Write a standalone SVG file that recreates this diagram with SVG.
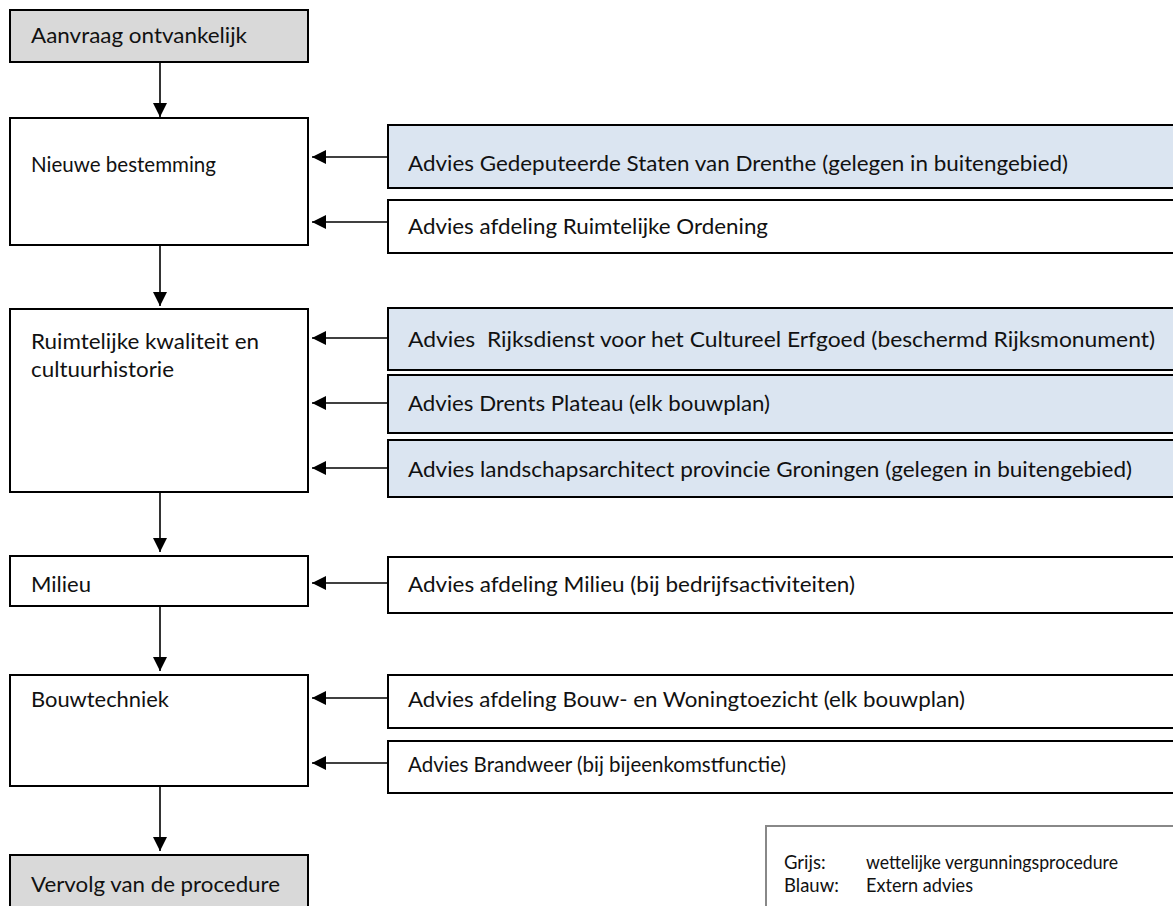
<svg xmlns="http://www.w3.org/2000/svg" width="1173" height="906" viewBox="0 0 1173 906">
<style>
text{font-family:Lato,"Liberation Sans",sans-serif;font-size:21px;fill:#111;}
.lt{font-size:18.5px;}
.box{fill:#fff;stroke:#000;stroke-width:2;}
.grey{fill:#d9d9d9;stroke:#000;stroke-width:2;}
.blue{fill:#dbe5f1;stroke:#000;stroke-width:2;}
.leg{fill:#fff;stroke:#888;stroke-width:2;}
.con{stroke:#000;stroke-width:1.6;fill:none;marker-end:url(#ah);}
</style>
<defs>
<marker id="ah" markerUnits="userSpaceOnUse" markerWidth="16" markerHeight="14" refX="14" refY="7" orient="auto">
<path d="M0,0 L14,7 L0,14 Z" fill="#000"/>
</marker>
</defs>
<rect width="1173" height="906" fill="#fff"/>
<g id="connectors">
<line class="con" x1="160" y1="62" x2="160" y2="117"/>
<line class="con" x1="160" y1="245" x2="160" y2="306"/>
<line class="con" x1="160" y1="492" x2="160" y2="552"/>
<line class="con" x1="160" y1="606" x2="160" y2="671"/>
<line class="con" x1="160" y1="786" x2="160" y2="851"/>
<line class="con" x1="388" y1="157" x2="312" y2="157"/>
<line class="con" x1="388" y1="222" x2="312" y2="222"/>
<line class="con" x1="388" y1="338" x2="312" y2="338"/>
<line class="con" x1="388" y1="403" x2="312" y2="403"/>
<line class="con" x1="388" y1="468" x2="312" y2="468"/>
<line class="con" x1="388" y1="583" x2="312" y2="583"/>
<line class="con" x1="388" y1="698" x2="312" y2="698"/>
<line class="con" x1="388" y1="763" x2="312" y2="763"/>
</g>
<g id="n-aanvraag"><rect class="grey" x="10" y="10" width="298" height="52"/><text x="31" y="43" textLength="216" lengthAdjust="spacingAndGlyphs">Aanvraag ontvankelijk</text></g>
<g id="n-bestemming"><rect class="box" x="10" y="118" width="298" height="127"/><text x="31" y="172" textLength="185" lengthAdjust="spacingAndGlyphs">Nieuwe bestemming</text></g>
<g id="n-gs"><rect class="blue" x="388" y="125" width="800" height="63"/><text x="408" y="171" textLength="660" lengthAdjust="spacingAndGlyphs">Advies Gedeputeerde Staten van Drenthe (gelegen in buitengebied)</text></g>
<g id="n-ro"><rect class="box" x="388" y="200" width="800" height="53"/><text x="408" y="234" textLength="360" lengthAdjust="spacingAndGlyphs">Advies afdeling Ruimtelijke Ordening</text></g>
<g id="n-ruimtelijk"><rect class="box" x="10" y="309" width="298" height="183"/><text x="31" y="349" textLength="228" lengthAdjust="spacingAndGlyphs">Ruimtelijke kwaliteit en</text><text x="31" y="377" textLength="143" lengthAdjust="spacingAndGlyphs">cultuurhistorie</text></g>
<g id="n-rce"><rect class="blue" x="388" y="308" width="800" height="62"/><text x="408" y="347" xml:space="preserve" textLength="747" lengthAdjust="spacingAndGlyphs">Advies  Rijksdienst voor het Cultureel Erfgoed (beschermd Rijksmonument)</text></g>
<g id="n-dp"><rect class="blue" x="388" y="375" width="800" height="58"/><text x="408" y="411" textLength="362" lengthAdjust="spacingAndGlyphs">Advies Drents Plateau (elk bouwplan)</text></g>
<g id="n-land"><rect class="blue" x="388" y="440" width="800" height="57"/><text x="408" y="477" textLength="724" lengthAdjust="spacingAndGlyphs">Advies landschapsarchitect provincie Groningen (gelegen in buitengebied)</text></g>
<g id="n-milieu"><rect class="box" x="10" y="556" width="298" height="50"/><text x="31" y="592" textLength="60" lengthAdjust="spacingAndGlyphs">Milieu</text></g>
<g id="n-am"><rect class="box" x="388" y="557" width="800" height="56"/><text x="408" y="592" textLength="447" lengthAdjust="spacingAndGlyphs">Advies afdeling Milieu (bij bedrijfsactiviteiten)</text></g>
<g id="n-bouw"><rect class="box" x="10" y="675" width="298" height="111"/><text x="31" y="707" textLength="138" lengthAdjust="spacingAndGlyphs">Bouwtechniek</text></g>
<g id="n-bwt"><rect class="box" x="388" y="675" width="800" height="53"/><text x="408" y="707" textLength="557" lengthAdjust="spacingAndGlyphs">Advies afdeling Bouw- en Woningtoezicht (elk bouwplan)</text></g>
<g id="n-bw"><rect class="box" x="388" y="741" width="800" height="52"/><text x="408" y="772" textLength="378" lengthAdjust="spacingAndGlyphs">Advies Brandweer (bij bijeenkomstfunctie)</text></g>
<g id="n-vervolg"><rect class="grey" x="10" y="855" width="298" height="80"/><text x="31" y="892" textLength="249" lengthAdjust="spacingAndGlyphs">Vervolg van de procedure</text></g>
<g id="legend"><rect class="leg" x="766" y="826" width="440" height="120"/>
<text class="lt" x="784" y="869">Grijs:</text><text class="lt" x="866" y="869" textLength="252" lengthAdjust="spacingAndGlyphs">wettelijke vergunningsprocedure</text>
<text class="lt" x="784" y="892">Blauw:</text><text class="lt" x="866" y="892" textLength="107" lengthAdjust="spacingAndGlyphs">Extern advies</text></g>
</svg>
